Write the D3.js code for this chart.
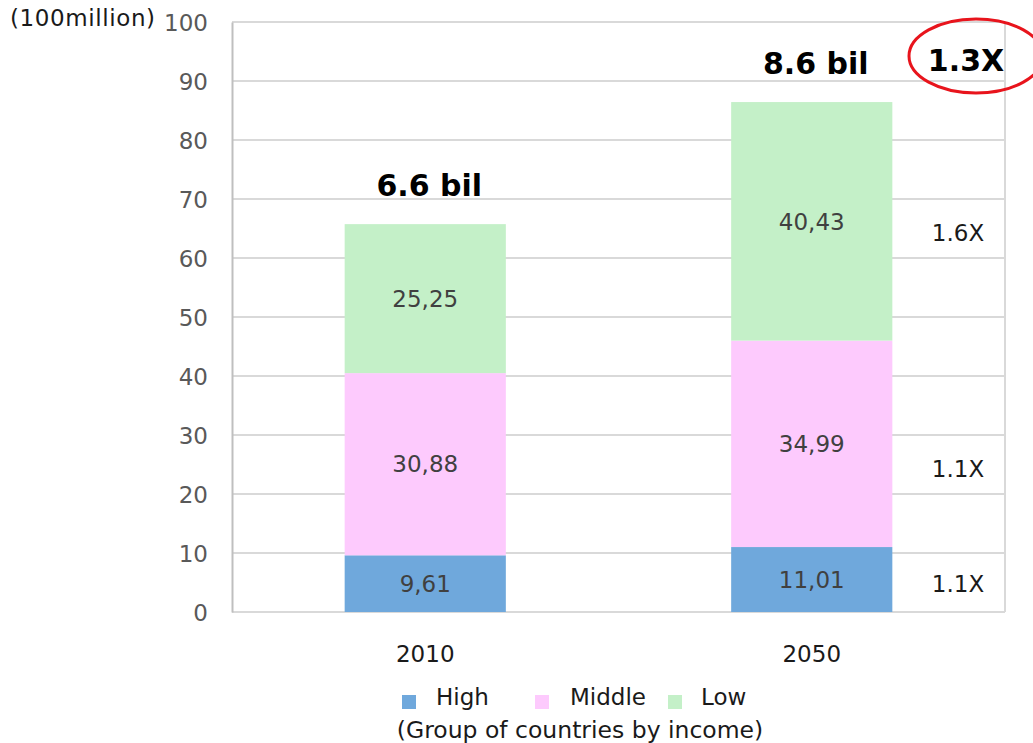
<!DOCTYPE html>
<html>
<head>
<meta charset="utf-8">
<script src="https://cdn.jsdelivr.net/npm/d3@7"></script>
<style>
  body { margin: 0; background: #fff; }
  svg { font-family: "DejaVu Sans", Verdana, sans-serif; }
</style>
</head>
<body>
<div id="chart"></div>
<script>
// Données
const years = ["2010", "2050"];
const groups = ["High", "Middle", "Low"];
const high = [9.61, 11.01];
const middle = [30.88, 34.99];
const low = [25.25, 40.43];
const totals = ["6.6 bil", "8.6 bil"];
const growth = ["1.1X", "1.1X", "1.6X"]; // High, Middle, Low
const yTicks = [0, 10, 20, 30, 40, 50, 60, 70, 80, 90, 100];

const width = 1033, height = 743;
const marginLeft = 232, marginRight = 28, marginTop = 22, marginBottom = 131;

const colors = { High: "#6fa8dc", Middle: "#fdcafd", Low: "#c4f0c8" };

const svg = d3.select("#chart").append("svg")
  .attr("width", width).attr("height", height);

const x = d3.scaleBand().domain(years)
  .range([marginLeft, width - marginRight])
  .paddingInner(0.583).paddingOuter(0.2915);
const y = d3.scaleLinear().domain([0, 100])
  .range([height - marginBottom, marginTop]);

// Grille
svg.append("g").selectAll("line").data(yTicks).join("line")
  .attr("x1", marginLeft).attr("x2", width - marginRight)
  .attr("y1", d => y(d)).attr("y2", d => y(d))
  .attr("stroke", "#d9d9d9").attr("stroke-width", 2);

// Axe Y
const yAxis = svg.append("g")
  .attr("transform", `translate(${marginLeft},0)`)
  .call(d3.axisLeft(y).tickValues(yTicks).tickSize(0).tickPadding(24));
yAxis.attr("font-size", 23).attr("font-family", null);
yAxis.select(".domain").attr("stroke", "#bfbfbf").attr("stroke-width", 2);
yAxis.selectAll("text").attr("fill", "#595959").attr("dy", "0.36em");
svg.append("line")
  .attr("x1", width - marginRight).attr("x2", width - marginRight)
  .attr("y1", y(100)).attr("y2", y(0))
  .attr("stroke", "#d9d9d9").attr("stroke-width", 2);

// Axe X
const xAxis = svg.append("g")
  .attr("transform", `translate(0,${y(0)})`)
  .call(d3.axisBottom(x).tickSize(0).tickPadding(34));
xAxis.attr("font-size", 23).attr("font-family", null);
xAxis.select(".domain").remove();
xAxis.selectAll("text").attr("fill", "#1a1a1a");

// Empilement
const rows = years.map((yr, i) => ({ year: yr, High: high[i], Middle: middle[i], Low: low[i] }));
const stack = d3.stack().keys(groups)(rows);

const layer = svg.append("g").selectAll("g").data(stack).join("g")
  .attr("fill", d => colors[d.key]);
layer.selectAll("rect").data(d => d).join("rect")
  .attr("x", d => x(d.data.year))
  .attr("width", x.bandwidth())
  .attr("y", d => y(d[1]))
  .attr("height", d => y(d[0]) - y(d[1]));

// Valeurs dans les barres (virgule décimale)
const fmt = v => v.toFixed(2).replace(".", ",");
stack.forEach(s => {
  svg.append("g").selectAll("text").data(s).join("text")
    .attr("x", d => x(d.data.year) + x.bandwidth() / 2)
    .attr("y", d => y((d[0] + d[1]) / 2))
    .attr("dy", "0.36em")
    .attr("text-anchor", "middle")
    .attr("font-size", 23)
    .attr("fill", "#404040")
    .text(d => fmt(d.data[s.key]));
});

// Totaux
svg.append("g").selectAll("text").data(rows).join("text")
  .attr("x", d => x(d.year) + x.bandwidth() / 2 + 4)
  .attr("y", d => y(d.High + d.Middle + d.Low) - 28)
  .attr("text-anchor", "middle")
  .attr("font-size", 30).attr("font-weight", "bold")
  .attr("fill", "#000")
  .text((d, i) => totals[i]);

// Multiplicateurs à droite
const last = stack.map(s => s[1]);
const nudge = [4, 25, 11];
svg.append("g").selectAll("text").data(last).join("text")
  .attr("x", 958)
  .attr("y", (d, i) => y((d[0] + d[1]) / 2) + nudge[i])
  .attr("dy", "0.36em")
  .attr("text-anchor", "middle")
  .attr("font-size", 23).attr("fill", "#1a1a1a")
  .text((d, i) => growth[i]);

// 1.3X entouré
svg.append("text")
  .attr("x", 966).attr("y", 71)
  .attr("text-anchor", "middle")
  .attr("font-size", 30).attr("font-weight", "bold")
  .text("1.3X");
svg.append("ellipse")
  .attr("cx", 976).attr("cy", 56).attr("rx", 67).attr("ry", 37)
  .attr("fill", "none").attr("stroke", "#e8141c").attr("stroke-width", 3);

// Unité
svg.append("text")
  .attr("x", 10).attr("y", 26)
  .attr("font-size", 23).attr("letter-spacing", 0.6).attr("fill", "#1a1a1a")
  .text("(100million)");

// Légende
const legendX = [402, 535, 668];
const legend = svg.append("g").selectAll("g").data(groups).join("g")
  .attr("transform", (d, i) => `translate(${legendX[i]},695)`);
legend.append("rect").attr("width", 14).attr("height", 14)
  .attr("fill", d => colors[d]);
legend.append("text")
  .attr("x", (d, i) => [34, 35, 33][i]).attr("y", 10)
  .attr("font-size", 23).attr("fill", "#1a1a1a")
  .text(d => d);

svg.append("text")
  .attr("x", 580).attr("y", 738)
  .attr("text-anchor", "middle")
  .attr("font-size", 23.5).attr("fill", "#1a1a1a")
  .text("(Group of countries by income)");
</script>
</body>
</html>
